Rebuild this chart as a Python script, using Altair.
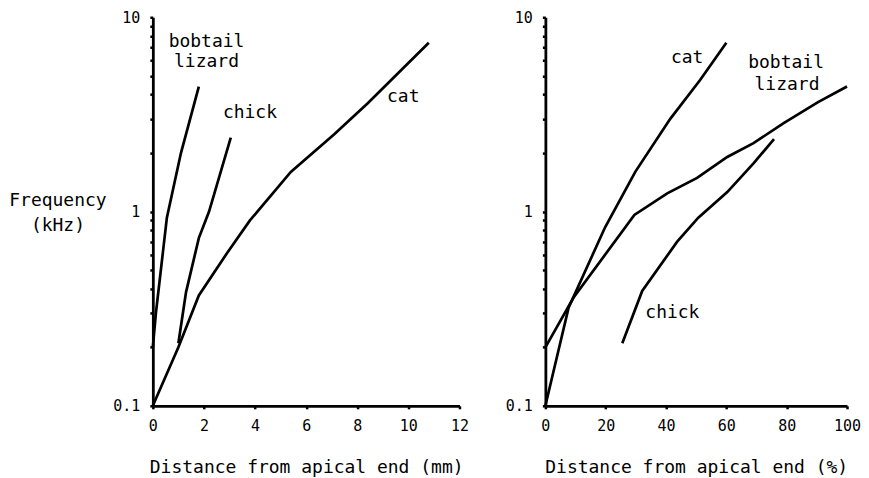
import altair as alt
import pandas as pd

# ---- Left panel: distance in mm ----
cat_mm = [0, 1.0, 1.8, 2.9, 3.8, 5.4, 7.1, 8.4, 10.8]
cat_mm_f = [0.1, 0.2, 0.37, 0.61, 0.9, 1.6, 2.5, 3.6, 7.4]
liz_mm = [0, 0.12, 0.55, 1.1, 1.8]
liz_mm_f = [0.2, 0.3, 0.93, 2.0, 4.4]
chick_mm = [1.0, 1.3, 1.8, 2.2, 3.05]
chick_mm_f = [0.21, 0.385, 0.73, 1.0, 2.4]

# ---- Right panel: distance in % ----
cat_pct = [0, 7.7, 19.8, 29.8, 41.4, 51.3, 60]
cat_pct_f = [0.1, 0.32, 0.83, 1.6, 3.0, 4.75, 7.4]
liz_pct = [0, 9.3, 29.5, 40.4, 50.3, 60.3, 69, 79, 90.4, 100]
liz_pct_f = [0.2, 0.36, 0.96, 1.24, 1.49, 1.91, 2.25, 2.85, 3.66, 4.4]
chick_pct = [25.5, 32.1, 43.7, 50.7, 60.3, 69, 75.8]
chick_pct_f = [0.21, 0.39, 0.70, 0.93, 1.26, 1.77, 2.36]

# ---- Curve labels ----
left_lab_text = ["bobtail", "lizard", "chick", "cat"]
left_lab_x = [2.1, 2.1, 3.8, 9.8]
left_lab_y = [7.5, 5.9, 3.2, 3.9]
right_lab_text = ["cat", "bobtail", "lizard", "chick"]
right_lab_x = [47.0, 79.8, 80.1, 42.1]
right_lab_y = [6.2, 5.8, 4.5, 0.30]

# ---- Axis ticks ----
y_ticks = [0.1, 0.2, 0.3, 0.4, 0.5, 0.6, 0.7, 0.8, 0.9,
           1, 2, 3, 4, 5, 6, 7, 8, 9, 10]
mm_ticks = list(range(0, 13))
pct_ticks = list(range(0, 101, 10))

FONT = "DejaVu Sans Mono"


def frame(xs, fs, name):
    return pd.DataFrame({"x": xs, "f": fs, "s": name, "i": list(range(len(xs)))})


left_df = pd.concat([frame(cat_mm, cat_mm_f, "cat"),
                     frame(liz_mm, liz_mm_f, "bobtail lizard"),
                     frame(chick_mm, chick_mm_f, "chick")])
right_df = pd.concat([frame(cat_pct, cat_pct_f, "cat"),
                      frame(liz_pct, liz_pct_f, "bobtail lizard"),
                      frame(chick_pct, chick_pct_f, "chick")])
left_lab = pd.DataFrame({"t": left_lab_text, "x": left_lab_x, "f": left_lab_y})
right_lab = pd.DataFrame({"t": right_lab_text, "x": right_lab_x, "f": right_lab_y})

ylabel_expr = ("datum.value == 0.1 ? '0.1' : datum.value == 1 ? '1' : "
               "datum.value == 10 ? '10' : ''")

common_axis = dict(grid=False, domainColor="black", domainWidth=2.8,
                   tickColor="black", tickWidth=2.5, tickSize=3,
                   labelFont=FONT, labelFontSize=15, labelColor="black",
                   titleFont=FONT, titleFontSize=18, titleColor="black",
                   titleFontWeight="normal", labelPadding=10)

y_scale = alt.Scale(type="log", domain=[0.1, 10], nice=False)


def panel(df, lab, xdomain, xticks, xlabel_expr, xtitle, ytitle_axis, w):
    x_axis = alt.Axis(values=xticks, labelExpr=xlabel_expr, title=xtitle,
                      titleBaseline="middle", titleY=62, labelFlush=False,
                      **common_axis)
    xs = alt.Scale(domain=xdomain, nice=False)
    lines = alt.Chart(df).mark_line(color="black", strokeWidth=2.7).encode(
        x=alt.X("x:Q", scale=xs, axis=x_axis),
        y=alt.Y("f:Q", scale=y_scale, axis=ytitle_axis),
        detail="s:N",
        order="i:Q",
    )
    texts = alt.Chart(lab).mark_text(font=FONT, fontSize=18, color="black",
                                     align="center", baseline="middle").encode(
        x=alt.X("x:Q", scale=xs),
        y=alt.Y("f:Q", scale=y_scale),
        text="t:N",
    )
    return alt.layer(lines, texts).properties(width=w, height=389)


left_y_axis = alt.Axis(values=y_ticks, labelExpr=ylabel_expr,
                       title=["Frequency", "(kHz)"], titleAngle=0,
                       titleAlign="center", titleBaseline="middle",
                       titleX=-95.5, titleY=183, titleLineHeight=25,
                       labelFlush=False, **common_axis)
right_y_axis = alt.Axis(values=y_ticks, labelExpr=ylabel_expr, title=None,
                        labelFlush=False, **common_axis)

left = panel(left_df, left_lab, [0, 12], mm_ticks,
             "datum.value % 2 == 0 ? datum.label : ''",
             "Distance from apical end (mm)", left_y_axis, 307)
right = panel(right_df, right_lab, [0, 100], pct_ticks,
              "datum.value % 20 == 0 ? datum.label : ''",
              "Distance from apical end (%)", right_y_axis, 302)

chart = alt.hconcat(left, right, spacing=86, bounds="flush").configure_view(
    stroke=None
).properties(
    padding={"left": 0, "top": 2, "right": 0, "bottom": 0},
    background="white",
)

chart.save("out.html", embed_options={"renderer": "svg", "actions": False})
